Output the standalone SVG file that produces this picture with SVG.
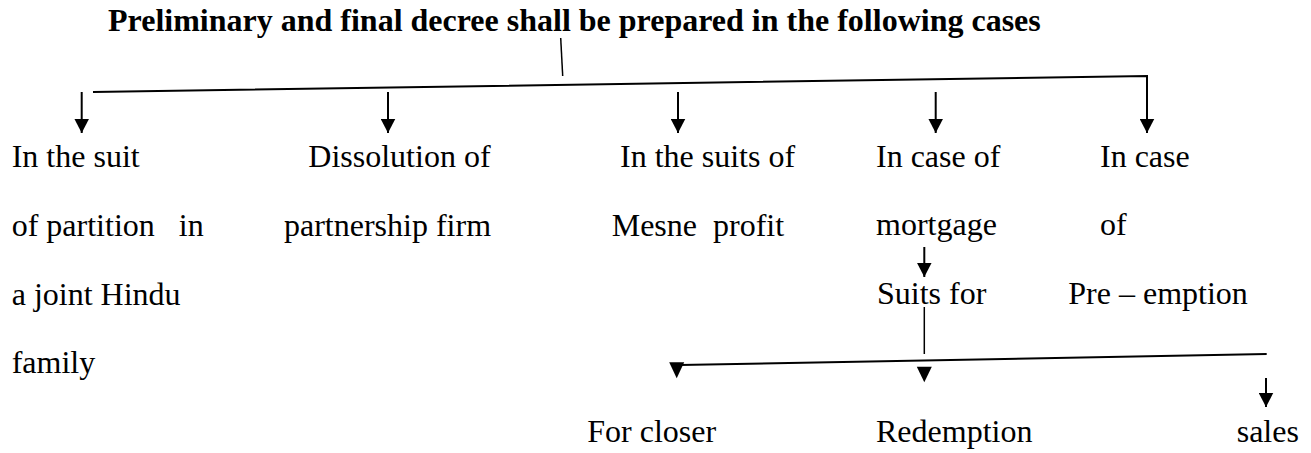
<svg xmlns="http://www.w3.org/2000/svg" width="1311" height="453" viewBox="0 0 1311 453">
  <style>
    text { font-family: "Liberation Serif", "Times New Roman", serif; font-size: 32px; fill: #000; white-space: pre; }
    .title { font-weight: bold; }
    .conn { stroke: #000; stroke-width: 2; fill: none; }
    .thin { stroke: #000; stroke-width: 1.5; fill: none; }
    .arrow { stroke: #000; stroke-width: 2; fill: none; marker-end: url(#ah); }
    .head { fill: #000; }
  </style>
  <defs>
    <marker id="ah" markerUnits="userSpaceOnUse" viewBox="0 -7.5 14.5 15" refX="14.5" refY="0" markerWidth="14.5" markerHeight="15" orient="auto">
      <path d="M0,-7.5 L14.5,0 L0,7.5 Z" fill="#000"/>
    </marker>
  </defs>
  <rect width="1311" height="453" fill="#fff"/>

  <g id="connectors">
    <line class="thin" x1="560.7" y1="38" x2="562.7" y2="76"/>
    <polyline class="conn" points="93,92 1147,76 1147,118"/>
    <line class="arrow" x1="1147" y1="110" x2="1147" y2="133"/>
    <line class="arrow" x1="81.7" y1="92" x2="81.7" y2="133"/>
    <line class="arrow" x1="388" y1="92" x2="388" y2="133"/>
    <line class="arrow" x1="678" y1="92" x2="678" y2="133"/>
    <line class="arrow" x1="935.7" y1="92" x2="935.7" y2="133"/>
    <line class="arrow" x1="924.3" y1="247" x2="924.3" y2="277"/>
    <line class="thin" x1="924.3" y1="307" x2="924.3" y2="354"/>
    <line class="conn" x1="680" y1="365" x2="1266.7" y2="354"/>
    <polygon class="head" points="669.2,362.3 684.2,362.3 676.7,378.3"/>
    <polygon class="head" points="916.8,366.7 931.8,366.7 924.3,382.3"/>
    <line class="arrow" x1="1266" y1="378" x2="1266" y2="407"/>
  </g>

  <g id="title">
    <text class="title" x="108" y="31">Preliminary and final decree shall be prepared in the following cases</text>
  </g>

  <g id="case-partition">
    <text x="11.7" y="166.7">In the suit</text>
    <text x="11.7" y="236">of partition   in</text>
    <text x="11.7" y="305">a joint Hindu</text>
    <text x="11.7" y="373">family</text>
  </g>

  <g id="case-dissolution">
    <text x="308.3" y="166.7">Dissolution of</text>
    <text x="284" y="236">partnership firm</text>
  </g>

  <g id="case-mesne">
    <text x="620" y="166.7">In the suits of</text>
    <text x="611.7" y="236">Mesne  profit</text>
  </g>

  <g id="case-mortgage">
    <text x="876" y="166.7">In case of</text>
    <text x="876" y="235">mortgage</text>
  </g>

  <g id="suits-for">
    <text x="877" y="304">Suits for</text>
  </g>

  <g id="case-preemption">
    <text x="1100" y="166.7">In case</text>
    <text x="1100" y="235">of</text>
    <text x="1068.3" y="304">Pre – emption</text>
  </g>

  <g id="for-closer">
    <text x="587.3" y="441.7">For closer</text>
  </g>

  <g id="redemption">
    <text x="876" y="441.7">Redemption</text>
  </g>

  <g id="sales">
    <text x="1236.7" y="441.7">sales</text>
  </g>
</svg>
